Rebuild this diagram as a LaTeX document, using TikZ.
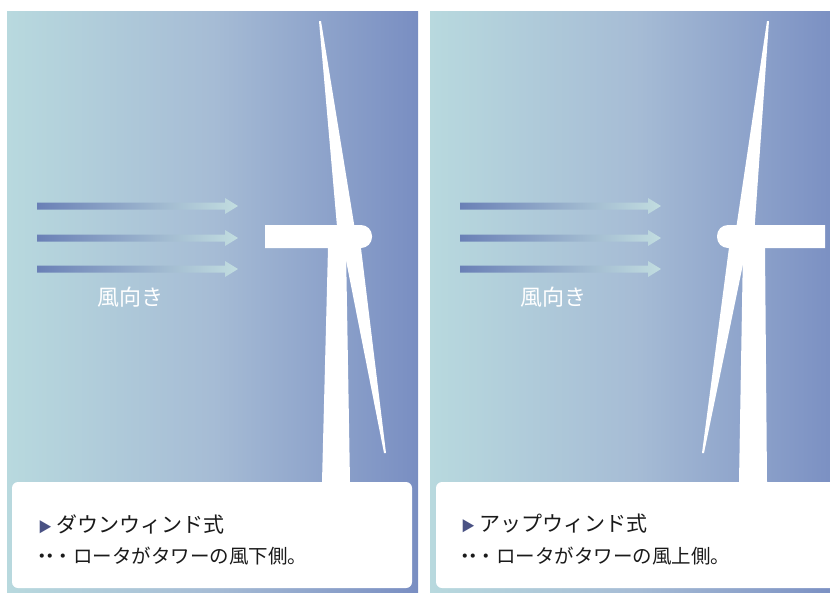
\documentclass[tikz,border=0pt]{standalone}
\usepackage{fontspec}
\setmainfont{Noto Sans CJK JP}
\usetikzlibrary{positioning}
\definecolor{skyleft}{HTML}{B8D9DE}
\definecolor{skymid}{HTML}{A6BCD5}
\definecolor{skyright}{HTML}{798EC2}
\definecolor{gustdark}{HTML}{6A80B6}
\definecolor{gustpale}{HTML}{C2DDE0}
\definecolor{ink}{HTML}{1A1A1A}
\definecolor{marker}{HTML}{4A5284}
\newcommand{\leaderdots}{・\hspace{-11.5pt}・\hspace{-6.5pt}}
\tikzset{
  sky/.style={left color=skyleft,right color=skyright,middle color=skymid},
  gust/.style={left color=gustdark,right color=gustpale},
  turbine/.style={fill=white},
  card/.style={fill=white,rounded corners=6pt},
  cardtitle/.style={anchor=west,inner sep=0pt,font=\fontsize{21}{21}\selectfont,text=ink},
  cardnote/.style={anchor=west,inner sep=0pt,font=\fontsize{19.5}{19.5}\selectfont,text=ink},
  windlabel/.style={inner sep=0pt,font=\fontsize{22}{22}\selectfont,text=white}
}

\begin{document}
\begin{tikzpicture}[x=1pt,y=-1pt]
  \useasboundingbox (0,0) rectangle (830,592);
  \clip (0,0) rectangle (830,592);
  % sky and wind arrows, same for both panels
  \foreach \dx in {0,423} {
    \begin{scope}[xshift=\dx]
      \shade[sky] (7,11) rectangle (418,592);
      \foreach \y in {206,238,269}
        \shade[gust] (37,\y-3.5) -- (225,\y-3.5) -- (225,\y-8) -- (238,\y)
          -- (225,\y+8) -- (225,\y+3.5) -- (37,\y+3.5) -- cycle;
      \node[windlabel] (wind\dx) at (130.5,297) {風向き};
    \end{scope}
  }

  % downwind turbine
  \fill[turbine] (328,248) -- (346,248) -- (350,482) -- (322,482) -- cycle;
  \fill[turbine] (319,21) -- (321,21) -- (356,236) -- (338,238) -- cycle;
  \fill[turbine] (342,240) -- (360,240) -- (386,453) -- (384,453) -- cycle;
  \fill[turbine] (265,225) [rounded corners=11pt] -- (372,225) -- (372,248) [sharp corners] -- (265,248) -- cycle;

  % upwind turbine
  \fill[turbine] (743,248) -- (765,248) -- (767,482) -- (739,482) -- cycle;
  \fill[turbine] (767,21) -- (769,21) -- (754,236) -- (735,236) -- cycle;
  \fill[turbine] (730,240) -- (748,240) -- (704,453) -- (702,453) -- cycle;
  \fill[turbine] (825,225) -- (825,248) [rounded corners=11pt] -- (717,248) -- (717,225) [sharp corners] -- cycle;

  % caption cards
  \fill[card] (12,482) rectangle (412,588);
  \fill[card] (436,482) rectangle (850,588);
  \node[cardtitle] (down) at (38,524) {{\color{marker}\fontsize{14}{14}\selectfont ▶}\hspace{4pt}ダウンウィンド式};
  \node[cardnote] (downnote) at (32.5,556) {\leaderdots・ロータがタワーの風下側。};
  \node[cardtitle] (up) at (461,524) {{\color{marker}\fontsize{14}{14}\selectfont ▶}\hspace{4pt}アップウィンド式};
  \node[cardnote] (upnote) at (455.5,556) {\leaderdots・ロータがタワーの風上側。};
\end{tikzpicture}
\end{document}
